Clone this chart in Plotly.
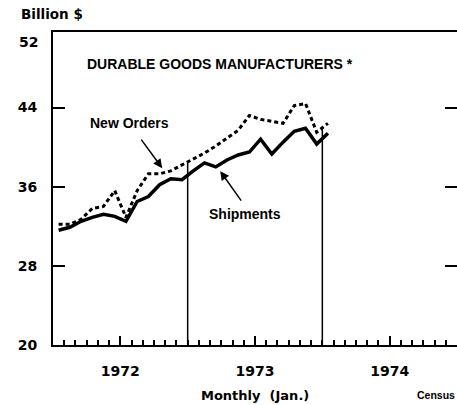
import plotly.graph_objects as go

# Months since Jan 1972 (Jan 1972 .. Jan 1974), plotted mid-month
months = list(range(25))
shipments = [31.6, 31.9, 32.5, 32.9, 33.2, 33.0, 32.5, 34.5, 35.0, 36.2, 36.8, 36.7,
             37.6, 38.4, 38.0, 38.7, 39.2, 39.5, 40.8, 39.3, 40.5, 41.6, 41.9, 40.3, 41.4]
new_orders = [32.2, 32.2, 32.7, 33.8, 34.0, 35.6, 32.9, 35.6, 37.3, 37.3, 37.6, 38.2,
              38.8, 39.4, 40.1, 40.9, 41.7, 43.2, 42.8, 42.6, 42.4, 44.2, 44.4, 41.5, 42.4]
year_labels = ["1972", "1973", "1974"]
year_mid = [6, 18, 30]
year_bounds = [12, 24]
y_ticks = [20, 28, 36, 44]

xs = [m + 0.5 for m in months]

NARROW = "Liberation Sans, Arial, sans-serif"
WIDE = "DejaVu Sans, sans-serif"

fig = go.Figure()

# year boundary drop lines, up to the new-orders line
for b in year_bounds:
    top = (new_orders[b - 1] + new_orders[b]) / 2
    fig.add_trace(go.Scatter(x=[b, b], y=[20, top], mode="lines",
                             line=dict(color="black", width=1.5), showlegend=False,
                             hoverinfo="skip"))

fig.add_trace(go.Scatter(x=xs, y=new_orders, mode="lines", name="New Orders",
                         line=dict(color="black", width=3, dash="4px,3px"),
                         showlegend=False))
fig.add_trace(go.Scatter(x=xs, y=shipments, mode="lines", name="Shipments",
                         line=dict(color="black", width=3.5), showlegend=False))
# invisible trace for right-side ticks
fig.add_trace(go.Scatter(x=[0], y=[20], yaxis="y2", mode="markers",
                         marker=dict(opacity=0), showlegend=False, hoverinfo="skip"))

fig.update_layout(
    width=457, height=405,
    margin=dict(l=53, r=0, t=32, b=60, autoexpand=False),
    plot_bgcolor="white", paper_bgcolor="white",
    xaxis=dict(range=[0, 36], showgrid=False, zeroline=False, automargin=False,
               showline=True, mirror=True, linecolor="black", linewidth=2,
               tickmode="array", tickvals=year_mid, ticktext=year_labels,
               ticks="inside", ticklen=9, tickwidth=1.5, tickcolor="black",
               ticklabelstandoff=12,
               tickfont=dict(family=WIDE, size=14, color="black", weight="bold"),
               minor=dict(ticks="inside", ticklen=5, tickwidth=1.5, tickcolor="black",
                          tickmode="linear", tick0=0, dtick=1, showgrid=False)),
    yaxis=dict(range=[20, 51.63], showgrid=False, zeroline=False, automargin=False,
               showline=True, linecolor="black", linewidth=2,
               tickmode="array", tickvals=y_ticks, ticktext=[str(v) for v in y_ticks],
               ticks="inside", ticklen=12, tickwidth=2, tickcolor="black",
               ticklabelstandoff=11,
               tickfont=dict(family=WIDE, size=14, color="black", weight="bold")),
    yaxis2=dict(range=[20, 51.63], overlaying="y", side="right", showgrid=False,
                automargin=False,
                zeroline=False, showline=False, tickmode="array", tickvals=[28, 36, 44],
                ticks="inside", ticklen=12, tickwidth=2, tickcolor="black",
                showticklabels=False),
)

ann = [
    dict(text="Billion $", x=-0.084, y=1.0575, xanchor="left", yanchor="middle",
         font=dict(family=WIDE, size=13.5, weight="bold")),
    dict(text="52", x=-0.032, y=1.0, xanchor="right", yanchor="top",
         font=dict(family=WIDE, size=14, weight="bold")),
    dict(text="DURABLE GOODS MANUFACTURERS *", x=0.079, y=0.899, xanchor="left",
         yanchor="middle", font=dict(family=NARROW, size=14, weight="bold")),
    dict(text="New Orders", x=0.0866, y=0.709, xanchor="left", yanchor="middle",
         font=dict(family=NARROW, size=14, weight="bold")),
    dict(text="Shipments", x=0.381, y=0.4185, xanchor="left", yanchor="middle",
         font=dict(family=NARROW, size=14, weight="bold")),
    dict(text="Monthly  (Jan.)", x=0.5, y=-0.16, xanchor="center", yanchor="middle",
         font=dict(family=WIDE, size=13, weight="bold")),
    dict(text="Census", x=0.897, y=-0.16, xanchor="left", yanchor="middle",
         font=dict(family=NARROW, size=10.5, weight="bold")),
]
for a in ann:
    a.update(xref="paper", yref="paper", showarrow=False)
    a["font"]["color"] = "black"
    fig.add_annotation(**a)

# pointer arrows
fig.add_annotation(x=9.73, y=37.87, xref="x", yref="y", text="", showarrow=True,
                   ax=-22, ay=-30, arrowhead=2, arrowsize=1.2, arrowwidth=1.5,
                   arrowcolor="black")
fig.add_annotation(x=14.9, y=37.57, xref="x", yref="y", text="", showarrow=True,
                   ax=22, ay=31, arrowhead=2, arrowsize=1.2, arrowwidth=1.5,
                   arrowcolor="black")

fig.write_html("out.html",
               config={"displayModeBar": False},
               post_script="document.body.style.margin='0';"
                           "document.body.style.overflow='hidden';")
